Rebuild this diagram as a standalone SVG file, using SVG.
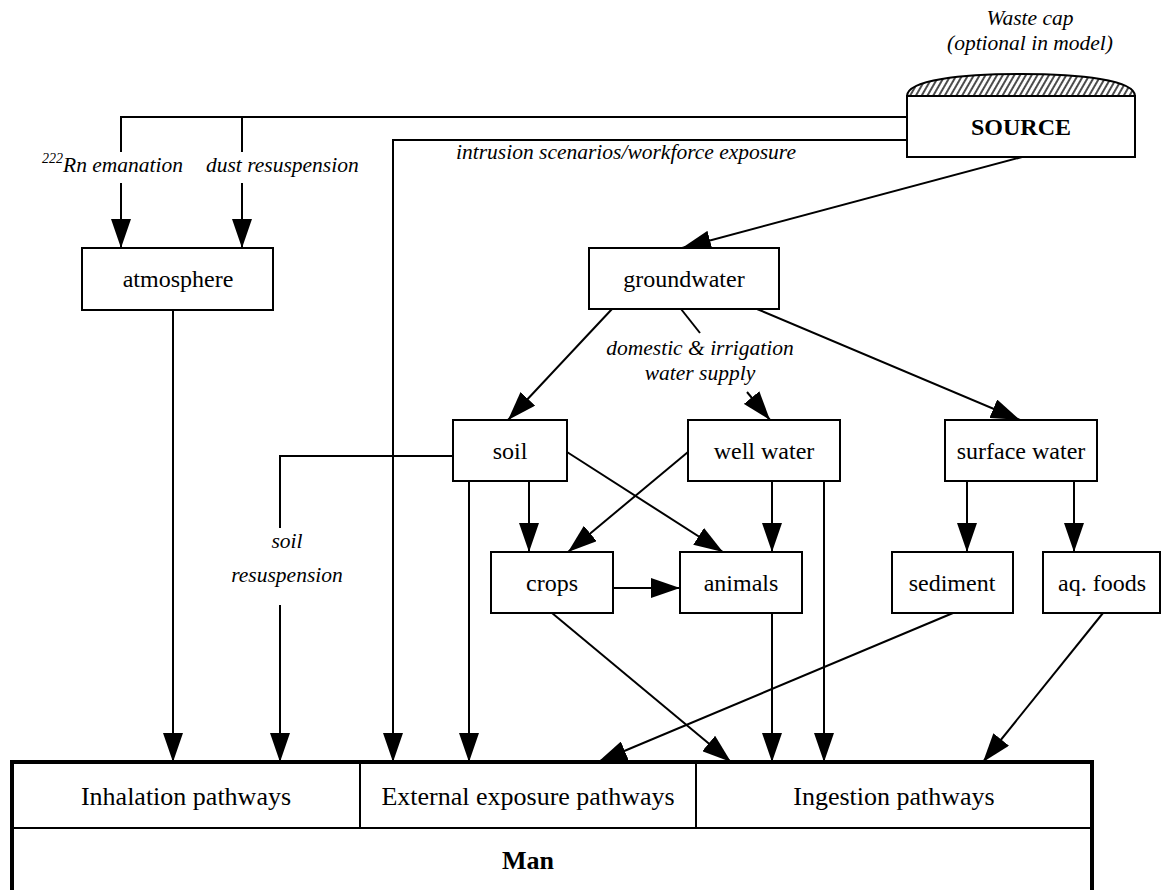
<svg xmlns="http://www.w3.org/2000/svg" width="1162" height="890" viewBox="0 0 1162 890">
<style>
.box{fill:#fff;stroke:#000;stroke-width:2}
.lbl{font-family:"Liberation Serif","Times New Roman",serif;font-size:24px;fill:#000;text-anchor:middle}
.big{font-family:"Liberation Serif","Times New Roman",serif;font-size:26px;fill:#000;text-anchor:middle}
.it{font-family:"Liberation Serif","Times New Roman",serif;font-size:21.5px;font-style:italic;fill:#000}
.c{fill:none;stroke:#000;stroke-width:2}
.a{marker-end:url(#ah)}
</style>
<defs>
<marker id="ah" markerUnits="userSpaceOnUse" markerWidth="29" markerHeight="20" viewBox="0 0 29 20" refX="29" refY="10" orient="auto">
<path d="M0,0 L29,10 L0,20 Z" fill="#000"/>
</marker>
<pattern id="hatch" patternUnits="userSpaceOnUse" width="5" height="10" patternTransform="rotate(30)">
<rect width="5" height="10" fill="#fff"/>
<line x1="1" y1="0" x2="1" y2="10" stroke="#000" stroke-width="1.4"/>
</pattern>
</defs>
<rect width="1162" height="890" fill="#fff"/>

<g id="connectors">
<path class="c" d="M907,117 H121 V152"/>
<path class="c" d="M242,117 V152"/>
<path class="c a" d="M121,183 V248"/>
<path class="c a" d="M242,183 V248"/>
<path class="c a" d="M907,140 H393 V762"/>
<path class="c a" d="M1022,157 L682,248"/>
<path class="c a" d="M173,310 V762"/>
<path class="c a" d="M612,309 L508,420"/>
<path class="c" d="M681,309 L700,333"/>
<path class="c a" d="M747,392 L770,420"/>
<path class="c a" d="M757,309 L1020,420"/>
<path class="c" d="M453,456 H280 V528"/>
<path class="c a" d="M280,605 V762"/>
<path class="c a" d="M469,481 V762"/>
<path class="c a" d="M529,481 V552"/>
<path class="c a" d="M567,452 L723,552"/>
<path class="c a" d="M688,452 L568,552"/>
<path class="c a" d="M772,481 V552"/>
<path class="c a" d="M824,481 V762"/>
<path class="c a" d="M613,588 H680"/>
<path class="c a" d="M552,613 L731,762"/>
<path class="c a" d="M772,613 V762"/>
<path class="c a" d="M967,481 V552"/>
<path class="c a" d="M1074,481 V552"/>
<path class="c a" d="M953,613 L598,762"/>
<path class="c a" d="M1103,613 L983,762"/>
<text class="it" x="42" y="172"><tspan font-size="14" dy="-9">222</tspan><tspan dy="9">Rn emanation</tspan></text>
<text class="it" x="206" y="172">dust resuspension</text>
<text class="it" x="456" y="159">intrusion scenarios/workforce exposure</text>
<text class="it" x="700" y="355" text-anchor="middle">domestic &amp; irrigation</text>
<text class="it" x="700" y="380" text-anchor="middle">water supply</text>
<text class="it" x="287" y="548" text-anchor="middle">soil</text>
<text class="it" x="287" y="582" text-anchor="middle">resuspension</text>
</g>

<g id="source">
<path d="M907,96 C907,80 962,74 1021,74 C1080,74 1135,80 1135,96 Z" fill="url(#hatch)" stroke="#000" stroke-width="2"/>
<rect class="box" x="907" y="96" width="228" height="61"/>
<text class="lbl" x="1021" y="135" font-weight="bold">SOURCE</text>
<text class="it" x="1030" y="25" text-anchor="middle">Waste cap</text>
<text class="it" x="1030" y="50" text-anchor="middle">(optional in model)</text>
</g>

<g id="atmosphere">
<rect class="box" x="82" y="248" width="191" height="62"/>
<text class="lbl" x="178" y="287">atmosphere</text>
</g>

<g id="groundwater">
<rect class="box" x="589" y="248" width="190" height="61"/>
<text class="lbl" x="684" y="287">groundwater</text>
</g>

<g id="soil">
<rect class="box" x="453" y="420" width="114" height="61"/>
<text class="lbl" x="510" y="459">soil</text>
</g>

<g id="well-water">
<rect class="box" x="688" y="420" width="152" height="61"/>
<text class="lbl" x="764" y="459">well water</text>
</g>

<g id="surface-water">
<rect class="box" x="945" y="420" width="152" height="61"/>
<text class="lbl" x="1021" y="459">surface water</text>
</g>

<g id="crops">
<rect class="box" x="491" y="552" width="122" height="61"/>
<text class="lbl" x="552" y="591">crops</text>
</g>

<g id="animals">
<rect class="box" x="680" y="552" width="122" height="61"/>
<text class="lbl" x="741" y="591">animals</text>
</g>

<g id="sediment">
<rect class="box" x="892" y="552" width="121" height="61"/>
<text class="lbl" x="952" y="591">sediment</text>
</g>

<g id="aq-foods">
<rect class="box" x="1043" y="552" width="117" height="61"/>
<text class="lbl" x="1102" y="591">aq. foods</text>
</g>

<g id="man">
<rect x="12" y="762" width="1080" height="140" fill="#fff"/>
<path d="M12,828 H1092 M360,762 V828 M696,762 V828" stroke="#000" stroke-width="2" fill="none"/>
<path d="M10,762 H1094 M12,760 V890 M1092,760 V890" stroke="#000" stroke-width="4" fill="none"/>
<text class="big" x="186" y="805">Inhalation pathways</text>
<text class="big" x="528" y="805">External exposure pathways</text>
<text class="big" x="894" y="805">Ingestion pathways</text>
<text class="big" x="528" y="869" font-weight="bold">Man</text>
</g>
</svg>
